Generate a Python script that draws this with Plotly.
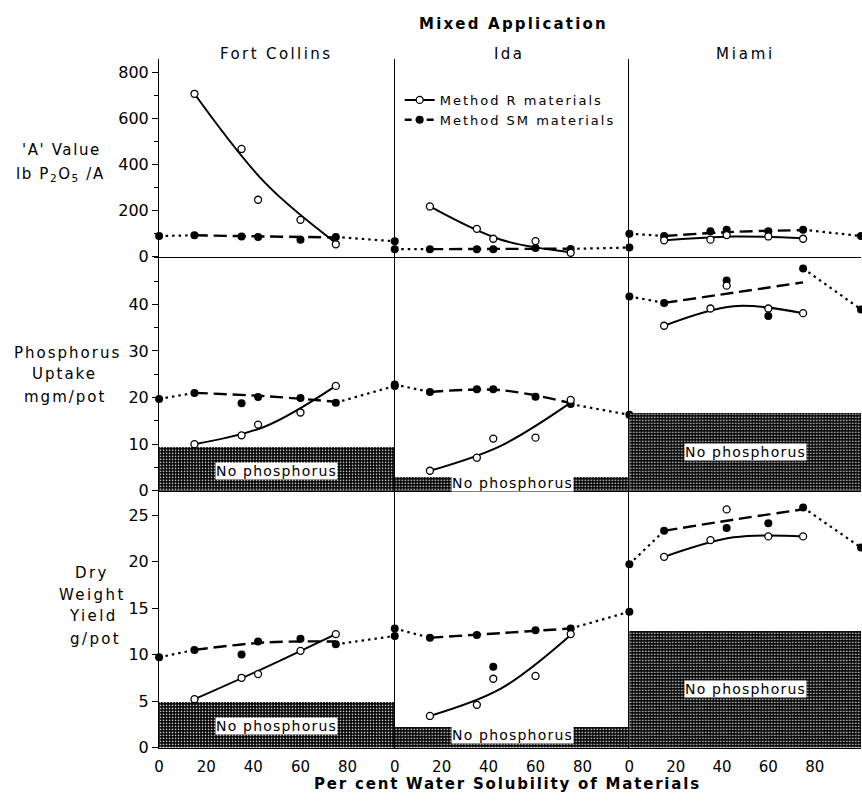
import plotly.graph_objects as go
from plotly.subplots import make_subplots

W, H = 862, 803

# ---------------- data ----------------
sites = ["Fort Collins", "Ida", "Miami"]
x_r = [15, 35, 42, 60, 75]                 # % water solubility, Method R materials
x_sm = [0, 15, 35, 42, 60, 75, 100]        # % water solubility, Method SM materials (+ end members)
x_fit = [15, 45, 75]                       # abscissae of the drawn curves
x_tick_vals = [0, 20, 40, 60, 80]
a_ticks = [0, 200, 400, 600, 800]
up_ticks = [0, 10, 20, 30, 40]
yd_ticks = [0, 5, 10, 15, 20, 25]

# 'A' value, lb P2O5/A
a_r = [[706, 467, 247, 160, 54], [218, 121, 78, 68, 17], [71, 74, 94, 88, 78]]
a_sm = [[90, 93, 88, 86, 74, 86, 67], [33, 33, 33, 33, 38, 34, 40], [100, 90, 110, 117, 110, 117, 90]]
a_r_fit = [[706, 320, 60], [218, 75, 20], [71, 88, 80]]
a_sm_fit = [[93, 88, 84], [33, 34, 35], [90, 108, 115]]

# Phosphorus uptake, mgm/pot
up_r = [[10.0, 11.9, 14.2, 16.8, 22.5], [4.3, 7.1, 11.2, 11.4, 19.5], [35.4, 39.1, 44.0, 39.1, 38.1]]
up_sm = [[19.7, 21.0, 18.8, 20.1, 19.9, 18.9, 22.5], [22.8, 21.2, 21.8, 21.8, 20.2, 18.6, 16.3],
         [41.7, 40.3, None, 45.1, 37.5, 47.7, 38.9]]
up_r_fit = [[10.0, 13.8, 22.5], [4.3, 9.6, 18.9], [35.4, 39.6, 38.1]]
up_sm_fit = [[21.0, 20.3, 19.1], [21.2, 21.6, 18.8], [40.3, 42.5, 44.7]]
up_nop = [9.5, 3.0, 16.7]

# Dry weight yield, g/pot
yd_r = [[5.2, 7.5, 7.9, 10.4, 12.2], [3.4, 4.6, 7.4, 7.7, 12.2], [20.5, 22.3, 25.6, 22.7, 22.7]]
yd_sm = [[9.7, 10.5, 10.0, 11.4, 11.7, 11.1, 12.0], [12.8, 11.8, 12.1, 8.7, 12.6, 12.8, 14.6],
         [19.7, 23.3, None, 23.6, 24.1, 25.8, 21.5]]
yd_r_fit = [[5.2, 8.6, 12.2], [3.4, 6.3, 12.1], [20.5, 22.6, 22.7]]
yd_sm_fit = [[10.5, 11.3, 11.4], [11.8, 12.3, 12.8], [23.3, 24.5, 25.6]]
yd_nop = [4.9, 2.2, 12.6]

# ---------------- layout geometry ----------------
FONT = "DejaVu Sans"
col_px = [(155, 392), (392, 628), (628, 861)]
row_px = [(60, 260), (260, 497), (497, 757)]
row_ranges = [[0, 855.6], [0, 50.2], [0, 27.6]]
row_tickvals = [a_ticks, up_ticks, yd_ticks]
row_minor = [100, 5, None]
nop_label_y = [None, [4.3, 1.7, 8.3], [2.3, 1.3, 6.3]]


def sp(text, ls=1.0):
    return f'<span style="letter-spacing:{ls}px">{text}</span>'


fig = make_subplots(rows=3, cols=3, horizontal_spacing=0, vertical_spacing=0)

open_marker = dict(symbol="circle", size=7, color="white", line=dict(color="black", width=1.3))
fill_marker = dict(symbol="circle", size=8, color="black", line=dict(color="black", width=0))
solid_line = dict(color="black", width=2)
dash_line = dict(color="black", width=2.4, dash="13px,6px")
dot_line = dict(color="black", width=2.2, dash="2.5px,4px")

rows_data = [
    (a_r, a_sm, a_r_fit, a_sm_fit, None),
    (up_r, up_sm, up_r_fit, up_sm_fit, up_nop),
    (yd_r, yd_sm, yd_r_fit, yd_sm_fit, yd_nop),
]

for ri, (rv, smv, rfit, smfit, nop) in enumerate(rows_data):
    for ci in range(3):
        r, c = ri + 1, ci + 1
        if nop is not None:
            fig.add_trace(go.Bar(
                x=[50], y=[nop[ci]], width=[100], showlegend=False, hoverinfo="skip",
                marker=dict(color="black", line=dict(width=0),
                            pattern=dict(shape=".", fgcolor="white", bgcolor="black",
                                         size=3, solidity=0.22, fgopacity=1)),
            ), row=r, col=c)
        s = smv[ci]
        fig.add_trace(go.Scatter(
            x=[x_sm[0], x_sm[1], None, x_sm[5], x_sm[6]],
            y=[s[0], s[1], None, s[5], s[6]],
            mode="lines", line=dot_line, showlegend=False, hoverinfo="skip",
        ), row=r, col=c)
        fig.add_trace(go.Scatter(x=x_fit, y=smfit[ci], mode="lines", line=dash_line,
                                 line_shape="spline", showlegend=False), row=r, col=c)
        fig.add_trace(go.Scatter(x=x_fit, y=rfit[ci], mode="lines", line=solid_line,
                                 line_shape="spline", showlegend=False), row=r, col=c)
        fig.add_trace(go.Scatter(x=x_sm, y=s, mode="markers", marker=fill_marker,
                                 cliponaxis=False, showlegend=False), row=r, col=c)
        fig.add_trace(go.Scatter(x=x_r, y=rv[ci], mode="markers", marker=open_marker,
                                 cliponaxis=False, showlegend=False), row=r, col=c)
        if nop is not None:
            fig.add_annotation(x=50, y=nop_label_y[ri][ci], text=sp("No phosphorus", 1.2),
                               showarrow=False, bgcolor="white", borderpad=0,
                               font=dict(family=FONT, size=14, color="black"),
                               row=r, col=c)

# legend-only traces
fig.add_trace(go.Scatter(x=[None], y=[None], mode="lines+markers", name=sp("Method R materials", 2.0),
                         line=solid_line, marker=open_marker), row=1, col=2)
fig.add_trace(go.Scatter(x=[None], y=[None], mode="lines+markers", name=sp("Method SM materials", 2.0),
                         line=dict(color="black", width=2.4, dash="7px,4px"), marker=fill_marker),
              row=1, col=2)

for ri in range(3):
    y0, y1 = row_px[ri]
    for ci in range(3):
        x0, x1 = col_px[ci]
        r, c = ri + 1, ci + 1
        fig.update_xaxes(domain=[x0 / W, x1 / W], range=[0, 100], showgrid=False, zeroline=False,
                         showline=True, linecolor="black", linewidth=1.2,
                         tickvals=x_tick_vals, ticks="", showticklabels=(ri == 2),
                         ticklabelstandoff=5,
                         tickfont=dict(family=FONT, size=15, color="black"),
                         row=r, col=c)
        yk = dict(domain=[1 - y1 / H, 1 - y0 / H], range=row_ranges[ri], showgrid=False,
                  zeroline=False, showline=True, linecolor="black", linewidth=1.2, row=r, col=c)
        if ci == 0:
            yk.update(dict(tickmode="array", tickvals=row_tickvals[ri], ticks="outside", ticklen=6,
                           tickwidth=1.2, tickcolor="black", showticklabels=True,
                           tickfont=dict(family=FONT, size=16, color="black")))
            if row_minor[ri]:
                yk["minor"] = dict(tickmode="linear", dtick=row_minor[ri], tick0=0, ticks="outside",
                                   ticklen=4, tickwidth=1, tickcolor="black")
        else:
            yk.update(dict(ticks="", showticklabels=False))
        fig.update_yaxes(**yk)


def pann(text, px, py, size=15, bold=False, ls=1.0):
    t = sp(text, ls)
    if bold:
        t = "<b>" + t + "</b>"
    fig.add_annotation(x=px / W, y=1 - py / H, xref="paper", yref="paper", text=t,
                       showarrow=False, xanchor="center", yanchor="middle",
                       font=dict(family=FONT, size=size, color="black"))


pann("Mixed Application", 511, 24, size=15, bold=True, ls=2.2)
pann(sites[0], 273, 55, ls=2.4)
pann(sites[1], 507, 55, ls=2.4)
pann(sites[2], 745, 55, ls=2.8)
pann("'A' Value", 57, 152, ls=1.6)
pann("lb P<sub>2</sub>O<sub>5</sub> /A", 56, 177, ls=1.6)
pann("Phosphorus", 63, 357, ls=2.0)
pann("Uptake", 60, 379, ls=2.0)
pann("mgm/pot", 60, 402, ls=2.0)
pann("Dry", 88, 580, ls=2.4)
pann("Weight", 88, 602, ls=2.4)
pann("Yield", 89, 624, ls=2.4)
pann("g/pot", 91, 647, ls=2.4)
pann("Per cent Water Solubility of Materials", 505, 794, size=15, bold=True, ls=1.8)

fig.update_layout(
    width=W, height=H, margin=dict(l=0, r=0, t=0, b=0),
    paper_bgcolor="white", plot_bgcolor="white",
    barmode="overlay", bargap=0,
    font=dict(family=FONT, color="black"),
    showlegend=True,
    legend=dict(x=397 / W, y=1 - 86 / H, xanchor="left", yanchor="top",
                bgcolor="rgba(0,0,0,0)", borderwidth=0,
                font=dict(family=FONT, size=13, color="black"),
                tracegroupgap=0, itemwidth=30),
)

fig.write_html(
    "out.html",
    config={"displayModeBar": False},
    post_script=("var s=document.createElement('style');"
                 "s.textContent='html,body{margin:0;padding:0;overflow:hidden;"
                 "font-size:0;line-height:0;} .plotly-graph-div{display:block;}';"
                 "document.head.appendChild(s);"),
)
